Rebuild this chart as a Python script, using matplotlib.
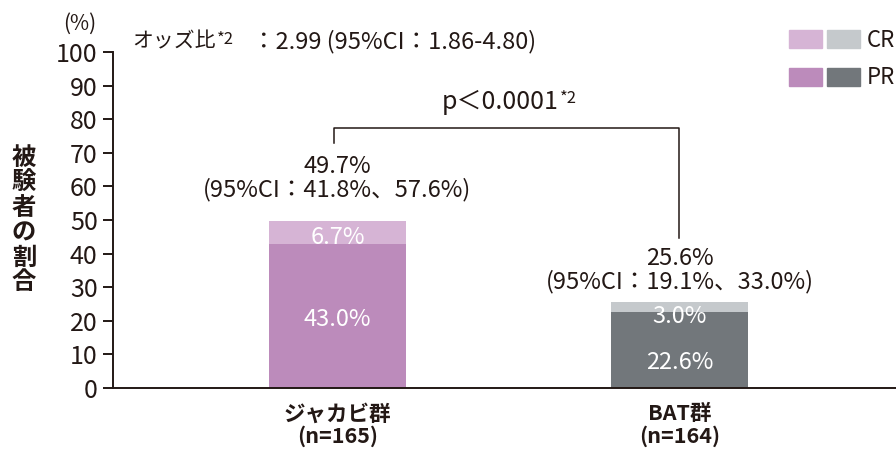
import numpy as np
import matplotlib
matplotlib.use('Agg')
from matplotlib import pyplot as plt
from matplotlib.patches import Patch
from matplotlib.legend_handler import HandlerTuple

plt.rcParams['font.family'] = ['Noto Sans CJK JP', 'DejaVu Sans']

groups = ['ジャカビ群\n(n=165)', 'BAT群\n(n=164)']
pr = [43.0, 22.6]
cr = [6.7, 3.0]
totals = [49.7, 25.6]
ci_text = ['(95%CI：41.8%、57.6%)', '(95%CI：19.1%、33.0%)']
yticks = list(range(0, 101, 10))

txt_col = '#231815'
pr_col = ['#bc8bbb', '#72777b']
cr_col = ['#d6b4d5', '#c5c9cc']

fig = plt.figure(figsize=(8.96, 4.54), dpi=100)
ax = fig.add_axes([113/896, 66/454, 1 - 113/896, 336/454])

x = np.arange(len(groups))
ax.bar(x, pr, width=0.4, color=pr_col)
ax.bar(x, cr, width=0.4, bottom=pr, color=cr_col)
ax.set_xlim(-0.656, 1.633)
ax.set_ylim(0, 100)

# labels inside the bars
pr_off = [-3, -9]
cr_off = [-4, -7]
for i in range(len(x)):
    ax.annotate(f'{pr[i]:.1f}%', (x[i], pr[i]/2), xytext=(0, pr_off[i]), textcoords='offset points',
                ha='center', va='center', color='white', fontsize=17)
    ax.annotate(f'{cr[i]:.1f}%', (x[i], pr[i] + cr[i]/2), xytext=(0, cr_off[i]), textcoords='offset points',
                ha='center', va='center', color='white', fontsize=17)

# totals above bars
offs = [14, 6]
for i in range(len(x)):
    ax.annotate(f'{totals[i]:.1f}%\n{ci_text[i]}', (x[i], totals[i]), xytext=(0, offs[i]),
                textcoords='offset points', ha='center', va='bottom', color=txt_col,
                fontsize=17, linespacing=1.0, annotation_clip=False)

# bracket
ax.plot([x[0] - 0.01, x[0] - 0.01, x[1], x[1]], [72.9, 77.4, 77.4, 44.6],
        color=txt_col, lw=1.1, clip_on=False)
pt = ax.text(0.475, 85, 'p＜0.0001', ha='center', va='center', fontsize=18, color=txt_col)
ax.annotate('*2', xy=(1, 0.97), xycoords=pt, xytext=(1, 0), textcoords='offset points',
            ha='left', va='top', fontsize=12, color=txt_col)

# odds ratio
ot = fig.text(132/896, 1 - 41/454, 'オッズ比', ha='left', va='center', fontsize=15, color=txt_col)
ax.annotate('*2', xy=(1, 0.97), xycoords=ot, xytext=(1, 0), textcoords='offset points',
            ha='left', va='top', fontsize=12, color=txt_col)
fig.text(252/896, 1 - 42/454, '：2.99 (95%CI：1.86-4.80)', ha='left', va='center',
         fontsize=17, color=txt_col)

# axes styling
ax.spines['top'].set_visible(False)
ax.spines['right'].set_visible(False)
ax.spines['left'].set_linewidth(1.4)
ax.spines['bottom'].set_linewidth(1.4)
ax.spines['left'].set_color(txt_col)
ax.spines['bottom'].set_color(txt_col)
ax.set_yticks(yticks)
ax.tick_params(axis='y', length=7, width=1.4, color=txt_col, labelsize=18, labelcolor=txt_col, pad=4)
ax.set_xticks(x)
ax.set_xticklabels(groups, fontsize=15.5, fontweight='bold', color=txt_col, linespacing=1.05)
ax.tick_params(axis='x', length=0, pad=11)

fig.text(80/896, 1 - 24/454, '(%)', ha='center', va='center', fontsize=15, color=txt_col)
fig.text(24/896, 1 - 220/454, '\n'.join('被験者の割合'), ha='center', va='center',
         fontsize=17.5, fontweight='bold', color=txt_col, linespacing=1.05)

# legend
h_cr = (Patch(color=cr_col[0]), Patch(color=cr_col[1]))
h_pr = (Patch(color=pr_col[0]), Patch(color=pr_col[1]))
fig.legend([h_cr, h_pr], ['CR', 'PR'], handler_map={tuple: HandlerTuple(ndivide=None, pad=0.23)},
           loc='upper left', bbox_to_anchor=(789/896, 1 - 29/454), frameon=False,
           fontsize=16, handlelength=3.2, handleheight=0.85, handletextpad=0.3,
           labelspacing=0.65, borderpad=0, borderaxespad=0, labelcolor=txt_col)

fig.savefig('out.png', dpi=100)
